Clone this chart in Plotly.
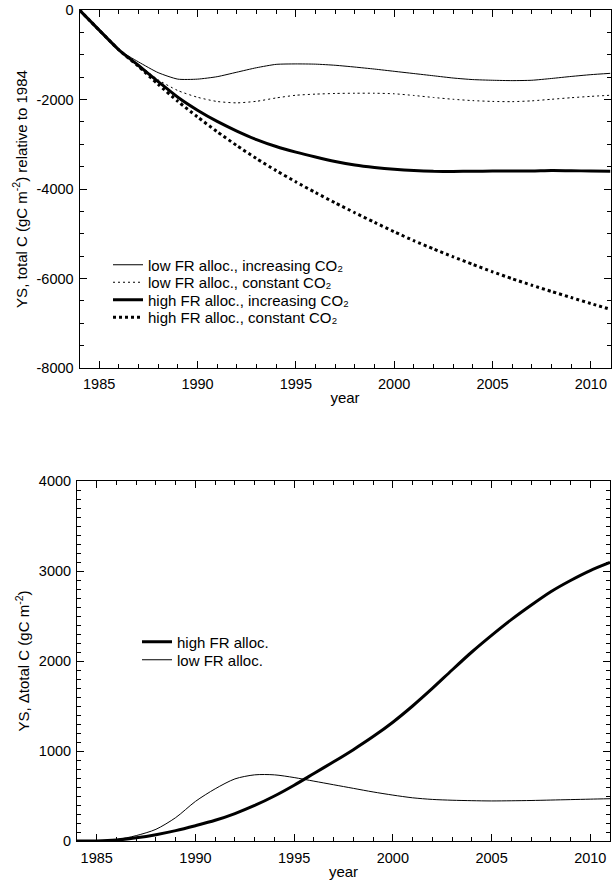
import plotly.graph_objects as go

W, H = 616, 882

years = list(range(1984, 2012))

# Top panel: total C relative to 1984 (gC m-2)
low_inc = [0, -450, -890, -1160, -1400, -1545, -1545, -1490, -1390, -1290, -1215, -1205,
           -1210, -1235, -1275, -1320, -1370, -1420, -1470, -1520, -1555, -1570, -1578,
           -1570, -1530, -1485, -1445, -1415]
low_const = [0, -450, -890, -1220, -1560, -1800, -1950, -2045, -2075, -2040, -1965, -1905,
             -1880, -1865, -1860, -1860, -1872, -1910, -1955, -1995, -2025, -2043, -2048,
             -2030, -1995, -1960, -1930, -1905]
high_inc = [0, -450, -890, -1240, -1600, -1950, -2240, -2490, -2705, -2895, -3050, -3175,
            -3285, -3385, -3465, -3520, -3560, -3588, -3605, -3608, -3603, -3600, -3600,
            -3598, -3585, -3590, -3600, -3605]
high_const = [0, -450, -890, -1260, -1660, -2040, -2390, -2720, -3030, -3320, -3590, -3840,
              -4080, -4310, -4530, -4745, -4955, -5155, -5340, -5515, -5685, -5850, -6005,
              -6150, -6290, -6425, -6560, -6690]

# Bottom panel: delta total C (gC m-2)
d_high = [0, 0, 10, 35, 70, 115, 170, 230, 305, 395, 500, 620, 750, 880, 1015, 1160, 1320,
          1500, 1695, 1900, 2100, 2285, 2460, 2620, 2770, 2895, 3005, 3095]
d_low = [0, 0, 15, 60, 130, 260, 440, 580, 690, 735, 735, 705, 665, 625, 585, 545, 510,
         480, 462, 453, 448, 445, 447, 450, 455, 460, 465, 470]

x_ticks = [1985, 1990, 1995, 2000, 2005, 2010]
x_ticktext = ["1985", "1990", "1995", "2000", "2005", "2010"]
top_yticks = [0, -2000, -4000, -6000, -8000]
top_yticktext = ["0", "-2000", "-4000", "-6000", "-8000"]
bot_yticks = [0, 1000, 2000, 3000, 4000]
bot_yticktext = ["0", "1000", "2000", "3000", "4000"]

names_top = ["low FR alloc., increasing CO\u2082",
             "low FR alloc., constant CO\u2082",
             "high FR alloc., increasing CO\u2082",
             "high FR alloc., constant CO\u2082"]
names_bot = ["high FR alloc.", "low FR alloc."]

FONT = "Liberation Sans, Arial, Helvetica, sans-serif"
TICKSIZE = 14.5
LEGSIZE = 15

fig = go.Figure()
styles_top = [dict(width=1, dash="solid"), dict(width=1, dash="2px,3px"),
              dict(width=3, dash="solid"), dict(width=3, dash="3px,3px")]
top_legends = ["legend", "legend2", "legend3", "legend4"]
for ys, nm, st, lg in zip([low_inc, low_const, high_inc, high_const], names_top,
                          styles_top, top_legends):
    fig.add_trace(go.Scatter(x=years, y=ys, mode="lines", name=nm,
                             line=dict(color="black", shape="spline", smoothing=0.6, **st),
                             xaxis="x", yaxis="y", legend=lg))
styles_bot = [dict(width=3, dash="solid"), dict(width=1, dash="solid")]
bot_legends = ["legend5", "legend6"]
for ys, nm, st, lg in zip([d_high, d_low], names_bot, styles_bot, bot_legends):
    fig.add_trace(go.Scatter(x=years, y=ys, mode="lines", name=nm,
                             line=dict(color="black", shape="spline", smoothing=0.8, **st),
                             xaxis="x2", yaxis="y2", legend=lg))

axis_common = dict(showline=True, linecolor="black", linewidth=1, mirror="ticks",
                   ticks="inside", tickcolor="black", ticklen=7, tickwidth=1,
                   showgrid=False, zeroline=False, automargin=False,
                   tickfont=dict(family=FONT, size=TICKSIZE, color="black"))


def leg(xpx, ypx):
    return dict(x=xpx / W, y=1 - ypx / H, xanchor="left", yanchor="middle",
                bgcolor="rgba(0,0,0,0)", borderwidth=0,
                font=dict(family=FONT, size=LEGSIZE, color="black"), itemwidth=30)


top_rows = [265, 282.5, 300, 317.5]
bot_rows = [642, 660]

layout_legends = {}
for lg, yy in zip(top_legends, top_rows):
    layout_legends[lg] = leg(108, yy)
for lg, yy in zip(bot_legends, bot_rows):
    layout_legends[lg] = leg(137, yy)

fig.update_layout(
    width=W, height=H,
    margin=dict(l=0, r=0, t=0, b=0, autoexpand=False),
    paper_bgcolor="white", plot_bgcolor="white",
    font=dict(family=FONT, size=15, color="black"),
    showlegend=True,
    xaxis=dict(domain=[79.5 / W, 610.5 / W], range=[1984, 2011], anchor="y",
               tickvals=x_ticks, ticktext=x_ticktext, ticklabelstandoff=3,
               minor=dict(dtick=1, ticks="inside", ticklen=4, tickcolor="black"),
               title=dict(text="year", font=dict(family=FONT, size=15), standoff=1),
               **axis_common),
    yaxis=dict(domain=[1 - 368 / H, 1 - 10 / H], range=[-8000, 0], anchor="x",
               tickvals=top_yticks, ticktext=top_yticktext, ticklabelstandoff=2,
               minor=dict(dtick=500, ticks="inside", ticklen=4, tickcolor="black"),
               title=dict(text="YS, total C (gC m<sup>-2</sup>) relative to 1984",
                          font=dict(family=FONT, size=15), standoff=5),
               **axis_common),
    xaxis2=dict(domain=[77 / W, 610 / W], range=[1984, 2011], anchor="y2",
                tickvals=x_ticks, ticktext=x_ticktext, ticklabelstandoff=4,
                minor=dict(dtick=1, ticks="inside", ticklen=4, tickcolor="black"),
                title=dict(text="year", font=dict(family=FONT, size=15), standoff=1),
                **axis_common),
    yaxis2=dict(domain=[1 - 841 / H, 1 - 481 / H], range=[0, 4000], anchor="x2",
                tickvals=bot_yticks, ticktext=bot_yticktext, ticklabelstandoff=2,
                minor=dict(dtick=100, ticks="inside", ticklen=4, tickcolor="black"),
                title=dict(text="YS, \u0394total C (gC m<sup>-2</sup>)",
                           font=dict(family=FONT, size=15), standoff=5),
                **axis_common),
    **layout_legends,
)

fig.write_html("out.html")
